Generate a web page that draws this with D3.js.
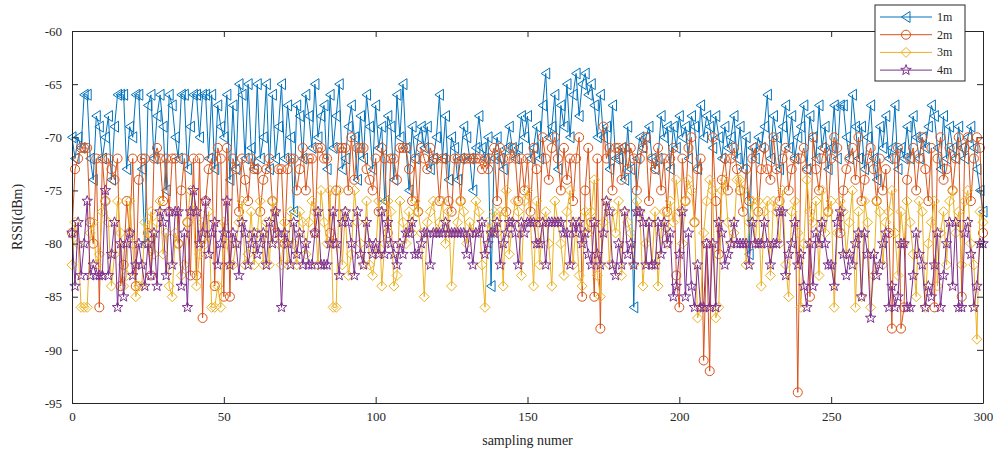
<!DOCTYPE html>
<html>
<head>
<meta charset="utf-8">
<script src="https://cdn.jsdelivr.net/npm/d3@7"></script>
<style>
  body { margin: 0; background: #fff; }
  svg text { font-family: "Liberation Serif", "DejaVu Serif", serif; fill: #262626; }
</style>
</head>
<body>
<svg id="chart" width="993" height="453"></svg>
<script>
// RSSI readings (dBm) per sample, one array per distance
const rssi1m = [
  -70,-72,-70,-71,-66,-66,-72,-74,-68,-69,
  -72,-70,-68,-74,-69,-66,-66,-66,-73,-69,
  -70,-66,-66,-73,-80,-67,-66,-72,-68,-66,
  -69,-75,-66,-67,-70,-72,-66,-66,-73,-69,
  -66,-66,-70,-66,-66,-72,-66,-73,-67,-69,
  -70,-66,-74,-67,-73,-65,-66,-72,-65,-71,
  -73,-65,-72,-70,-65,-73,-66,-72,-69,-65,
  -72,-67,-70,-77,-67,-68,-72,-66,-68,-71,
  -65,-70,-68,-67,-73,-66,-71,-68,-65,-73,
  -72,-69,-67,-70,-74,-68,-72,-66,-69,-73,
  -67,-71,-69,-76,-68,-69,-74,-66,-70,-65,
  -71,-75,-69,-72,-70,-69,-71,-69,-73,-72,
  -70,-66,-72,-68,-74,-70,-71,-74,-72,-69,
  -70,-72,-75,-71,-68,-71,-72,-70,-84,-72,
  -70,-72,-73,-71,-69,-71,-72,-71,-68,-70,
  -68,-72,-71,-69,-72,-67,-64,-70,-69,-66,
  -73,-67,-69,-65,-70,-66,-64,-68,-65,-64,
  -66,-65,-67,-70,-66,-70,-69,-73,-67,-72,
  -72,-71,-74,-69,-73,-86,-72,-70,-71,-70,
  -69,-72,-73,-72,-68,-70,-69,-73,-69,-71,
  -68,-70,-69,-72,-68,-69,-73,-67,-70,-68,
  -69,-71,-68,-70,-72,-69,-71,-70,-68,-72,
  -69,-73,-70,-81,-71,-72,-70,-71,-69,-66,
  -72,-68,-70,-73,-69,-67,-71,-68,-72,-70,
  -69,-67,-73,-68,-70,-72,-67,-71,-69,-73,
  -71,-67,-72,-67,-67,-70,-72,-66,-69,-72,
  -69,-73,-70,-67,-72,-74,-69,-71,-68,-72,
  -71,-67,-73,-71,-72,-69,-72,-68,-70,-72,
  -70,-71,-69,-67,-68,-71,-73,-68,-72,-69,
  -71,-72,-69,-71,-72,-70,-69,-71,-73,-75,
  -77
];
const rssi2m = [
  -79,-73,-72,-71,-71,-71,-78,-80,-72,-86,
  -72,-76,-72,-73,-74,-72,-84,-82,-76,-79,
  -72,-84,-74,-72,-72,-79,-83,-72,-71,-72,
  -76,-72,-77,-72,-72,-80,-75,-72,-78,-83,
  -72,-83,-72,-87,-76,-73,-72,-84,-71,-72,
  -85,-71,-85,-72,-73,-77,-72,-74,-76,-72,
  -73,-73,-77,-74,-73,-72,-76,-79,-73,-73,
  -80,-73,-72,-72,-75,-73,-71,-75,-72,-72,
  -79,-71,-71,-72,-72,-79,-80,-75,-71,-71,
  -71,-75,-70,-74,-71,-71,-71,-73,-74,-75,
  -72,-77,-71,-72,-79,-72,-72,-74,-71,-71,
  -71,-73,-76,-72,-77,-71,-72,-73,-71,-72,
  -72,-76,-72,-72,-76,-77,-72,-72,-76,-72,
  -72,-72,-72,-72,-72,-73,-72,-73,-72,-71,
  -76,-71,-72,-77,-72,-71,-72,-76,-72,-75,
  -72,-77,-71,-73,-78,-70,-72,-74,-71,-70,
  -72,-75,-71,-74,-72,-76,-72,-70,-85,-75,
  -71,-78,-85,-72,-88,-69,-72,-71,-75,-71,
  -71,-74,-71,-73,-71,-72,-75,-72,-71,-70,
  -76,-72,-73,-71,-75,-72,-77,-72,-71,-83,
  -86,-72,-76,-71,-70,-78,-73,-72,-91,-80,
  -92,-70,-76,-81,-74,-72,-75,-72,-71,-73,
  -75,-77,-73,-76,-72,-71,-77,-73,-71,-73,
  -74,-70,-73,-76,-72,-71,-75,-73,-72,-94,
  -72,-71,-73,-85,-70,-73,-75,-72,-71,-77,
  -72,-70,-71,-79,-75,-73,-72,-71,-74,-70,
  -76,-74,-72,-71,-73,-76,-72,-75,-73,-79,
  -88,-72,-71,-88,-86,-74,-72,-71,-75,-72,
  -70,-73,-76,-71,-86,-72,-70,-74,-73,-71,
  -75,-72,-70,-85,-71,-70,-76,-72,-70,-71,
  -79
];
const rssi3m = [
  -82,-78,-80,-86,-86,-86,-79,-78,-82,-81,
  -77,-76,-78,-84,-81,-76,-79,-84,-83,-76,
  -80,-85,-84,-84,-78,-80,-77,-81,-78,-76,
  -81,-79,-84,-85,-79,-80,-83,-82,-78,-75,
  -77,-84,-81,-78,-80,-77,-86,-86,-84,-86,
  -78,-80,-82,-82,-80,-78,-76,-82,-81,-77,
  -82,-79,-76,-82,-78,-82,-76,-77,-80,-82,
  -78,-82,-77,-80,-82,-77,-78,-81,-78,-76,
  -77,-82,-75,-78,-80,-75,-86,-86,-75,-82,
  -77,-83,-81,-75,-78,-80,-82,-76,-82,-83,
  -81,-76,-84,-80,-76,-77,-84,-83,-76,-78,
  -80,-77,-79,-76,-77,-79,-85,-78,-77,-76,
  -79,-78,-76,-80,-77,-84,-79,-78,-76,-77,
  -80,-78,-79,-76,-77,-82,-86,-78,-79,-77,
  -79,-77,-84,-75,-81,-78,-76,-77,-83,-76,
  -75,-78,-84,-76,-82,-78,-77,-80,-84,-76,
  -78,-80,-83,-77,-75,-82,-78,-83,-84,-77,
  -79,-77,-74,-83,-85,-78,-76,-82,-77,-79,
  -76,-83,-77,-78,-79,-82,-76,-77,-84,-80,
  -78,-82,-77,-84,-79,-77,-80,-76,-78,-74,
  -77,-80,-76,-74,-75,-78,-87,-86,-79,-76,
  -74,-75,-87,-86,-75,-74,-78,-80,-79,-74,
  -74,-75,-82,-78,-76,-80,-76,-84,-77,-76,
  -83,-76,-77,-80,-75,-82,-85,-77,-76,-79,
  -86,-80,-74,-77,-78,-76,-83,-75,-79,-77,
  -76,-86,-79,-76,-77,-81,-78,-75,-86,-77,
  -85,-76,-78,-86,-83,-76,-77,-82,-78,-77,
  -75,-79,-83,-77,-80,-76,-78,-81,-85,-76,
  -77,-86,-80,-78,-76,-84,-79,-77,-82,-76,
  -75,-79,-77,-82,-76,-75,-80,-82,-89,-77,
  -78
];
const rssi4m = [
  -79,-84,-78,-83,-80,-76,-83,-82,-83,-83,
  -83,-75,-83,-81,-78,-86,-80,-85,-80,-79,
  -83,-82,-80,-82,-84,-80,-83,-79,-84,-77,
  -78,-83,-77,-82,-77,-77,-84,-79,-86,-77,
  -75,-77,-80,-79,-76,-81,-79,-78,-82,-80,
  -79,-76,-82,-79,-80,-83,-78,-79,-82,-80,
  -79,-81,-80,-79,-82,-78,-80,-77,-79,-86,
  -79,-80,-82,-78,-81,-79,-82,-80,-82,-82,
  -79,-77,-82,-82,-82,-80,-77,-80,-83,-78,
  -77,-78,-80,-83,-77,-81,-82,-78,-80,-81,
  -80,-81,-77,-81,-78,-80,-81,-82,-80,-81,
  -79,-79,-78,-81,-81,-80,-79,-79,-82,-79,
  -79,-79,-79,-78,-79,-79,-79,-79,-79,-79,
  -81,-79,-82,-79,-79,-78,-81,-80,-79,-79,
  -78,-82,-80,-79,-78,-78,-79,-82,-78,-79,
  -78,-78,-78,-80,-80,-78,-82,-78,-78,-78,
  -78,-78,-79,-79,-82,-78,-79,-78,-80,-79,
  -81,-82,-78,-81,-82,-79,-76,-77,-82,-83,
  -80,-82,-77,-81,-80,-82,-77,-77,-78,-82,
  -78,-82,-82,-78,-81,-78,-80,-79,-85,-84,
  -81,-77,-85,-79,-84,-86,-82,-86,-86,-80,
  -86,-80,-86,-78,-79,-82,-81,-80,-78,-80,
  -80,-80,-80,-82,-78,-80,-80,-80,-78,-80,
  -82,-80,-80,-77,-77,-83,-81,-80,-78,-82,
  -81,-84,-86,-80,-84,-79,-80,-78,-80,-82,
  -82,-84,-78,-77,-81,-83,-81,-82,-80,-79,
  -85,-79,-81,-87,-81,-83,-82,-80,-79,-86,
  -84,-86,-85,-80,-80,-86,-86,-83,-79,-81,
  -82,-86,-84,-85,-82,-79,-86,-83,-80,-78,
  -84,-78,-86,-86,-79,-78,-81,-86,-84,-80,
  -80
];

const seriesNames = ['1m', '2m', '3m', '4m'];
const seriesData = [rssi1m, rssi2m, rssi3m, rssi4m];
const seriesColors = ['#0072BD', '#D95319', '#EDB120', '#7E2F8E'];
const seriesMarkers = ['triangle', 'circle', 'diamond', 'star'];
const xTicks = [0, 50, 100, 150, 200, 250, 300];
const yTicks = [-60, -65, -70, -75, -80, -85, -90, -95];

const svg = d3.select('#chart');
const margin = {left: 72, right: 10, top: 31, bottom: 50};
const W = 993, H = 453;
const x = d3.scaleLinear().domain([0, 300]).range([margin.left, W - margin.right]);
const y = d3.scaleLinear().domain([-95, -60]).range([H - margin.bottom, margin.top]);
const axisColor = '#262626';

function markerPath(type) {
  if (type === 'triangle') return 'M-4.5,0L4,-5.5L4,5.5Z';
  if (type === 'diamond') return 'M0,-5L5,0L0,5L-5,0Z';
  if (type === 'circle') return d3.symbol(d3.symbolCircle, 64)();
  //5 pointed star
  let pts = [];
  for (let k = 0; k < 10; k++) {
    let r = k % 2 === 0 ? 5.5 : 2.3;
    let a = -Math.PI / 2 + k * Math.PI / 5;
    pts.push([r * Math.cos(a), r * Math.sin(a)]);
  }
  return 'M' + pts.map(p => p[0].toFixed(2) + ',' + p[1].toFixed(2)).join('L') + 'Z';
}

//Lines and markers, drawn in series order so 4m ends on top
const plot = svg.append('g');
seriesData.forEach((vals, s) => {
  const line = d3.line().x((d, i) => x(i)).y(d => y(d));
  const g = plot.append('g');
  g.append('path')
    .datum(vals)
    .attr('d', line)
    .attr('fill', 'none')
    .attr('stroke', seriesColors[s])
    .attr('stroke-width', 1);
  g.selectAll('path.m')
    .data(vals)
    .enter().append('path')
    .attr('class', 'm')
    .attr('d', markerPath(seriesMarkers[s]))
    .attr('transform', (d, i) => 'translate(' + x(i) + ',' + y(d) + ')')
    .attr('fill', 'none')
    .attr('stroke', seriesColors[s])
    .attr('stroke-width', 1);
});

//Axes with inward ticks on all four sides
const axes = svg.append('g');
axes.append('g')
  .attr('transform', 'translate(0,' + y(-95) + ')')
  .call(d3.axisBottom(x).tickValues(xTicks).tickSizeInner(-6).tickSizeOuter(0).tickPadding(9));
axes.append('g')
  .attr('transform', 'translate(0,' + y(-60) + ')')
  .call(d3.axisTop(x).tickValues(xTicks).tickSizeInner(-6).tickSizeOuter(0).tickFormat(''));
axes.append('g')
  .attr('transform', 'translate(' + x(0) + ',0)')
  .call(d3.axisLeft(y).tickValues(yTicks).tickSizeInner(-6).tickSizeOuter(0).tickPadding(10).tickFormat(d => d));
axes.append('g')
  .attr('transform', 'translate(' + x(300) + ',0)')
  .call(d3.axisRight(y).tickValues(yTicks).tickSizeInner(-6).tickSizeOuter(0).tickFormat(''));
axes.selectAll('path.domain').attr('stroke', axisColor).attr('stroke-width', 1);
axes.selectAll('.tick line').attr('stroke', axisColor);
axes.selectAll('.tick text')
  .attr('font-family', '"Liberation Serif", serif')
  .attr('font-size', 13)
  .attr('fill', axisColor);

svg.append('text')
  .attr('x', (x(0) + x(300)) / 2)
  .attr('y', 445)
  .attr('text-anchor', 'middle')
  .attr('font-size', 14)
  .text('sampling numer');
svg.append('text')
  .attr('transform', 'translate(22,' + ((y(-60) + y(-95)) / 2) + ') rotate(-90)')
  .attr('text-anchor', 'middle')
  .attr('font-size', 14)
  .text('RSSI(dBm)');

//Legend
const legend = svg.append('g');
legend.append('rect')
  .attr('x', 875).attr('y', 5)
  .attr('width', 90).attr('height', 76)
  .attr('fill', '#fff')
  .attr('stroke', axisColor)
  .attr('stroke-width', 1);
seriesNames.forEach((name, s) => {
  const ly = 17 + s * 17.7;
  legend.append('line')
    .attr('x1', 880).attr('x2', 932)
    .attr('y1', ly).attr('y2', ly)
    .attr('stroke', seriesColors[s]);
  legend.append('path')
    .attr('d', markerPath(seriesMarkers[s]))
    .attr('transform', 'translate(906,' + ly + ')')
    .attr('fill', 'none')
    .attr('stroke', seriesColors[s]);
  legend.append('text')
    .attr('x', 937).attr('y', ly + 4)
    .attr('font-size', 12)
    .text(name);
});
</script>
</body>
</html>
